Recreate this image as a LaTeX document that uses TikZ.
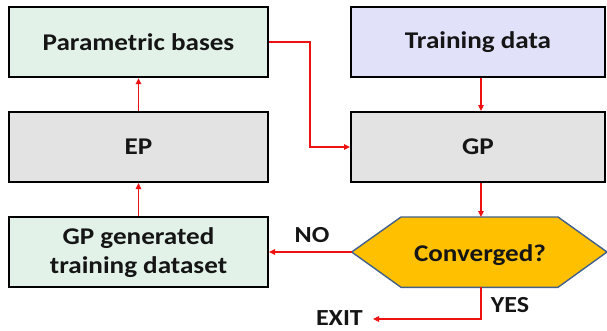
\documentclass[tikz,border=0pt]{standalone}
\usepackage{fontspec}
\setmainfont{Carlito}[FakeStretch=1.13]
\usetikzlibrary{arrows.meta}
\definecolor{boxgreen}{HTML}{E3F2E9}
\definecolor{boxblue}{HTML}{E1E1FA}
\definecolor{boxgray}{HTML}{E3E3E3}
\definecolor{hexfill}{HTML}{FFC000}
\definecolor{hexline}{HTML}{41608C}
\definecolor{arrowred}{HTML}{EE1111}
\definecolor{txt}{HTML}{151515}
\tikzset{
  box/.style={draw=black, line width=2pt, rectangle, minimum width=259pt, minimum height=70pt, inner sep=0pt, align=center, text=txt, font=\fontsize{24}{29}\selectfont\bfseries},
  conn/.style={draw=arrowred, line width=1.8pt, -{Triangle[length=6pt,width=5.5pt]}},
  lbl/.style={text=txt, font=\fontsize{23}{27}\selectfont\bfseries, inner sep=0pt}
}
\begin{document}
\begin{tikzpicture}[x=1pt,y=-1pt]
\useasboundingbox (0,0) rectangle (607,330);
\node[box, fill=boxgreen] (pb) at (138.5,42.2) {Parametric bases};
\node[box, fill=boxblue, minimum width=254pt] (td) at (478,42.2) {Training data};
\node[box, fill=boxgray] (ep) at (138.5,147) {EP};
\node[box, fill=boxgray, minimum width=254pt] (gp) at (478,147) {GP};
\node[box, fill=boxgreen] (gpg) at (138.5,252.2) {GP generated\\training dataset};
% hexagon
\coordinate (hexW) at (351.7,252);
\coordinate (hexN) at (481,217);
\coordinate (hexS) at (481,287.3);
\draw[hexline, line width=1.4pt, fill=hexfill, line join=miter] (351.7,252) -- (401,217) -- (558,217) -- (607,252) -- (558,287.3) -- (401,287.3) -- cycle;
\node[lbl, font=\fontsize{24}{29}\selectfont\bfseries, anchor=base] (conv) at (480,261) {Converged?};
\coordinate (exitpt) at (373,319);
\node[lbl, anchor=base east] (exit) at (363,325.5) {EXIT};
\node[lbl, anchor=base] (no) at (312,242) {NO};
\node[lbl, anchor=base] (yes) at (510,312) {YES};
% connectors
\draw[conn] (ep.north) -- (pb.south);
\draw[conn] (gpg.north) -- (ep.south);
\draw[conn] (pb.east) -- (309.7,42.2) |- (gp.west);
\draw[conn] (td.south -| hexN) -- (gp.north -| hexN);
\draw[conn] (gp.south -| hexN) -- (hexN);
\draw[conn] (hexW) -- (gpg.east |- hexW);
\draw[conn] (hexS) |- (exitpt);
\end{tikzpicture}
\end{document}
